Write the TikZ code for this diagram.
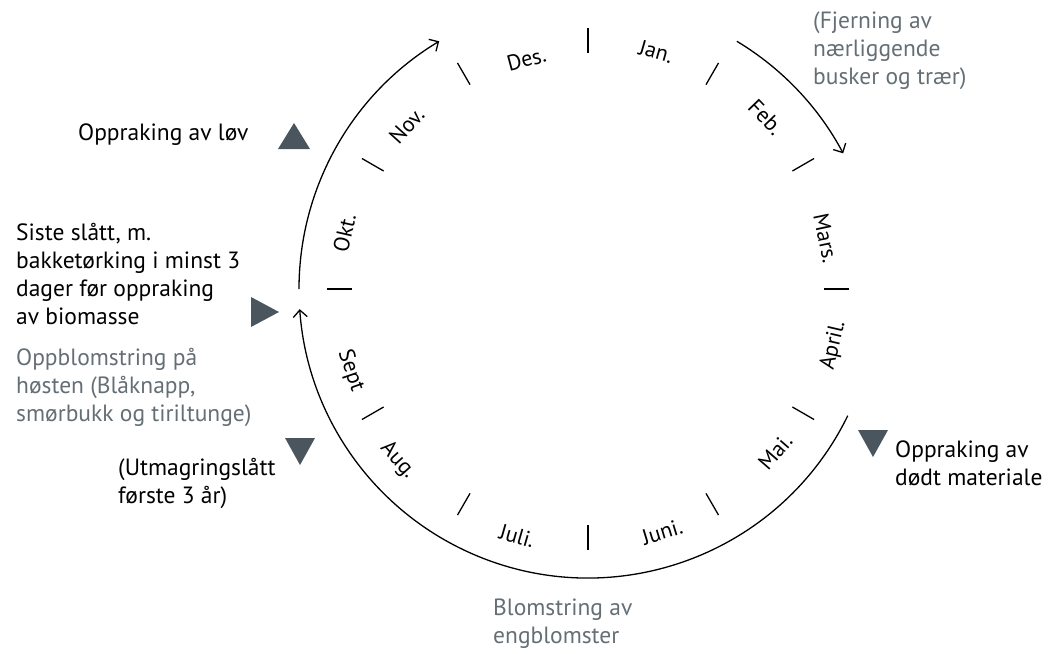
\documentclass[tikz,border=0pt]{standalone}
\usepackage{fontspec}
\setmainfont{PT Sans}
\usepackage{tikz}
\usetikzlibrary{arrows.meta}
\definecolor{markgray}{HTML}{4A555D}
\definecolor{textgray}{HTML}{646F75}

\begin{document}
\begin{tikzpicture}[x=1pt,y=-1pt,
  month/.style={font=\fontsize{22}{24}\selectfont, inner sep=0pt},
  note/.style={font=\fontsize{23.5}{28}\selectfont, align=left, anchor=base west, inner sep=0pt},
  notegray/.style={note, text=textgray},
  tri/.style={fill=markgray},
  season/.style={line width=1.3pt, -{Straight Barb[length=7pt,width=14pt]}}]
\useasboundingbox (0,0) rectangle (1048,653);
\begin{scope}[shift={(588,289)}, y=1pt]
\coordinate (c) at (0,0);
% ticks
\draw[line width=1.3pt] (0:236) -- (0:261);
\draw[line width=1.3pt] (30:236) -- (30:261);
\draw[line width=1.3pt] (60:236) -- (60:261);
\draw[line width=1.3pt] (90:236) -- (90:261);
\draw[line width=1.3pt] (120:236) -- (120:261);
\draw[line width=1.3pt] (150:236) -- (150:261);
\draw[line width=1.3pt] (180:236) -- (180:261);
\draw[line width=1.3pt] (210:236) -- (210:261);
\draw[line width=1.3pt] (240:236) -- (240:261);
\draw[line width=1.3pt] (270:236) -- (270:261);
\draw[line width=1.3pt] (300:236) -- (300:261);
\draw[line width=1.3pt] (330:236) -- (330:261);
% months
\node[month, rotate=-16] (jan) at (74:247) {Jan.};
\node[month, rotate=-46] (feb) at (44:247) {Feb.};
\node[month, rotate=-78] (mars) at (12:243) {Mars.};
\node[month, rotate=77] (april) at (-13:252) {April.};
\node[month, rotate=49] (mai) at (-41:248) {Mai.};
\node[month, rotate=17] (juni) at (-73:254) {Juni.};
\node[month, rotate=-16] (juli) at (-106:257) {Juli.};
\node[month, rotate=-48] (aug) at (222:256) {Aug.};
\node[month, rotate=-71] (sept) at (199:251) {Sept};
\node[month, rotate=77] (okt) at (167:250) {Okt.};
\node[month, rotate=48] (nov) at (138:244) {Nov.};
\node[month, rotate=15] (des) at (105:238) {Des.};
% arcs
\draw[season] (180:289) arc[start angle=180, end angle=121, radius=289];
\draw[season] (59:289) arc[start angle=59, end angle=28, radius=289];
\draw[season] (-26:289) arc[start angle=-26, end angle=-176, radius=289];
\end{scope}
% markers
\fill[tri] (278,149) -- (310,149) -- (294,123) -- cycle;
\fill[tri] (251,297) -- (251,327) -- (279,312) -- cycle;
\fill[tri] (285,438) -- (315,438) -- (300,465) -- cycle;
\fill[tri] (858,430) -- (888,430) -- (873,457) -- cycle;
% notes
\node[notegray] (fjerning) at (813,84) {(Fjerning av\\nærliggende\\busker og trær)};
\node[note] (lov) at (78,140) {Oppraking av løv};
\node[note] (siste) at (16,324) {Siste slått, m.\\bakketørking i minst 3\\dager før oppraking\\av biomasse};
\node[notegray] (hosten) at (16,421) {Oppblomstring på\\høsten (Blåknapp,\\smørbukk og tiriltunge)};
\node[note] (utmagring) at (118,503) {(Utmagringslått\\første 3 år)};
\node[notegray] (blomstring) at (493,643) {Blomstring av\\engblomster};
\node[note] (dodt) at (895,485) {Oppraking av\\dødt materiale};
\end{tikzpicture}
\end{document}
